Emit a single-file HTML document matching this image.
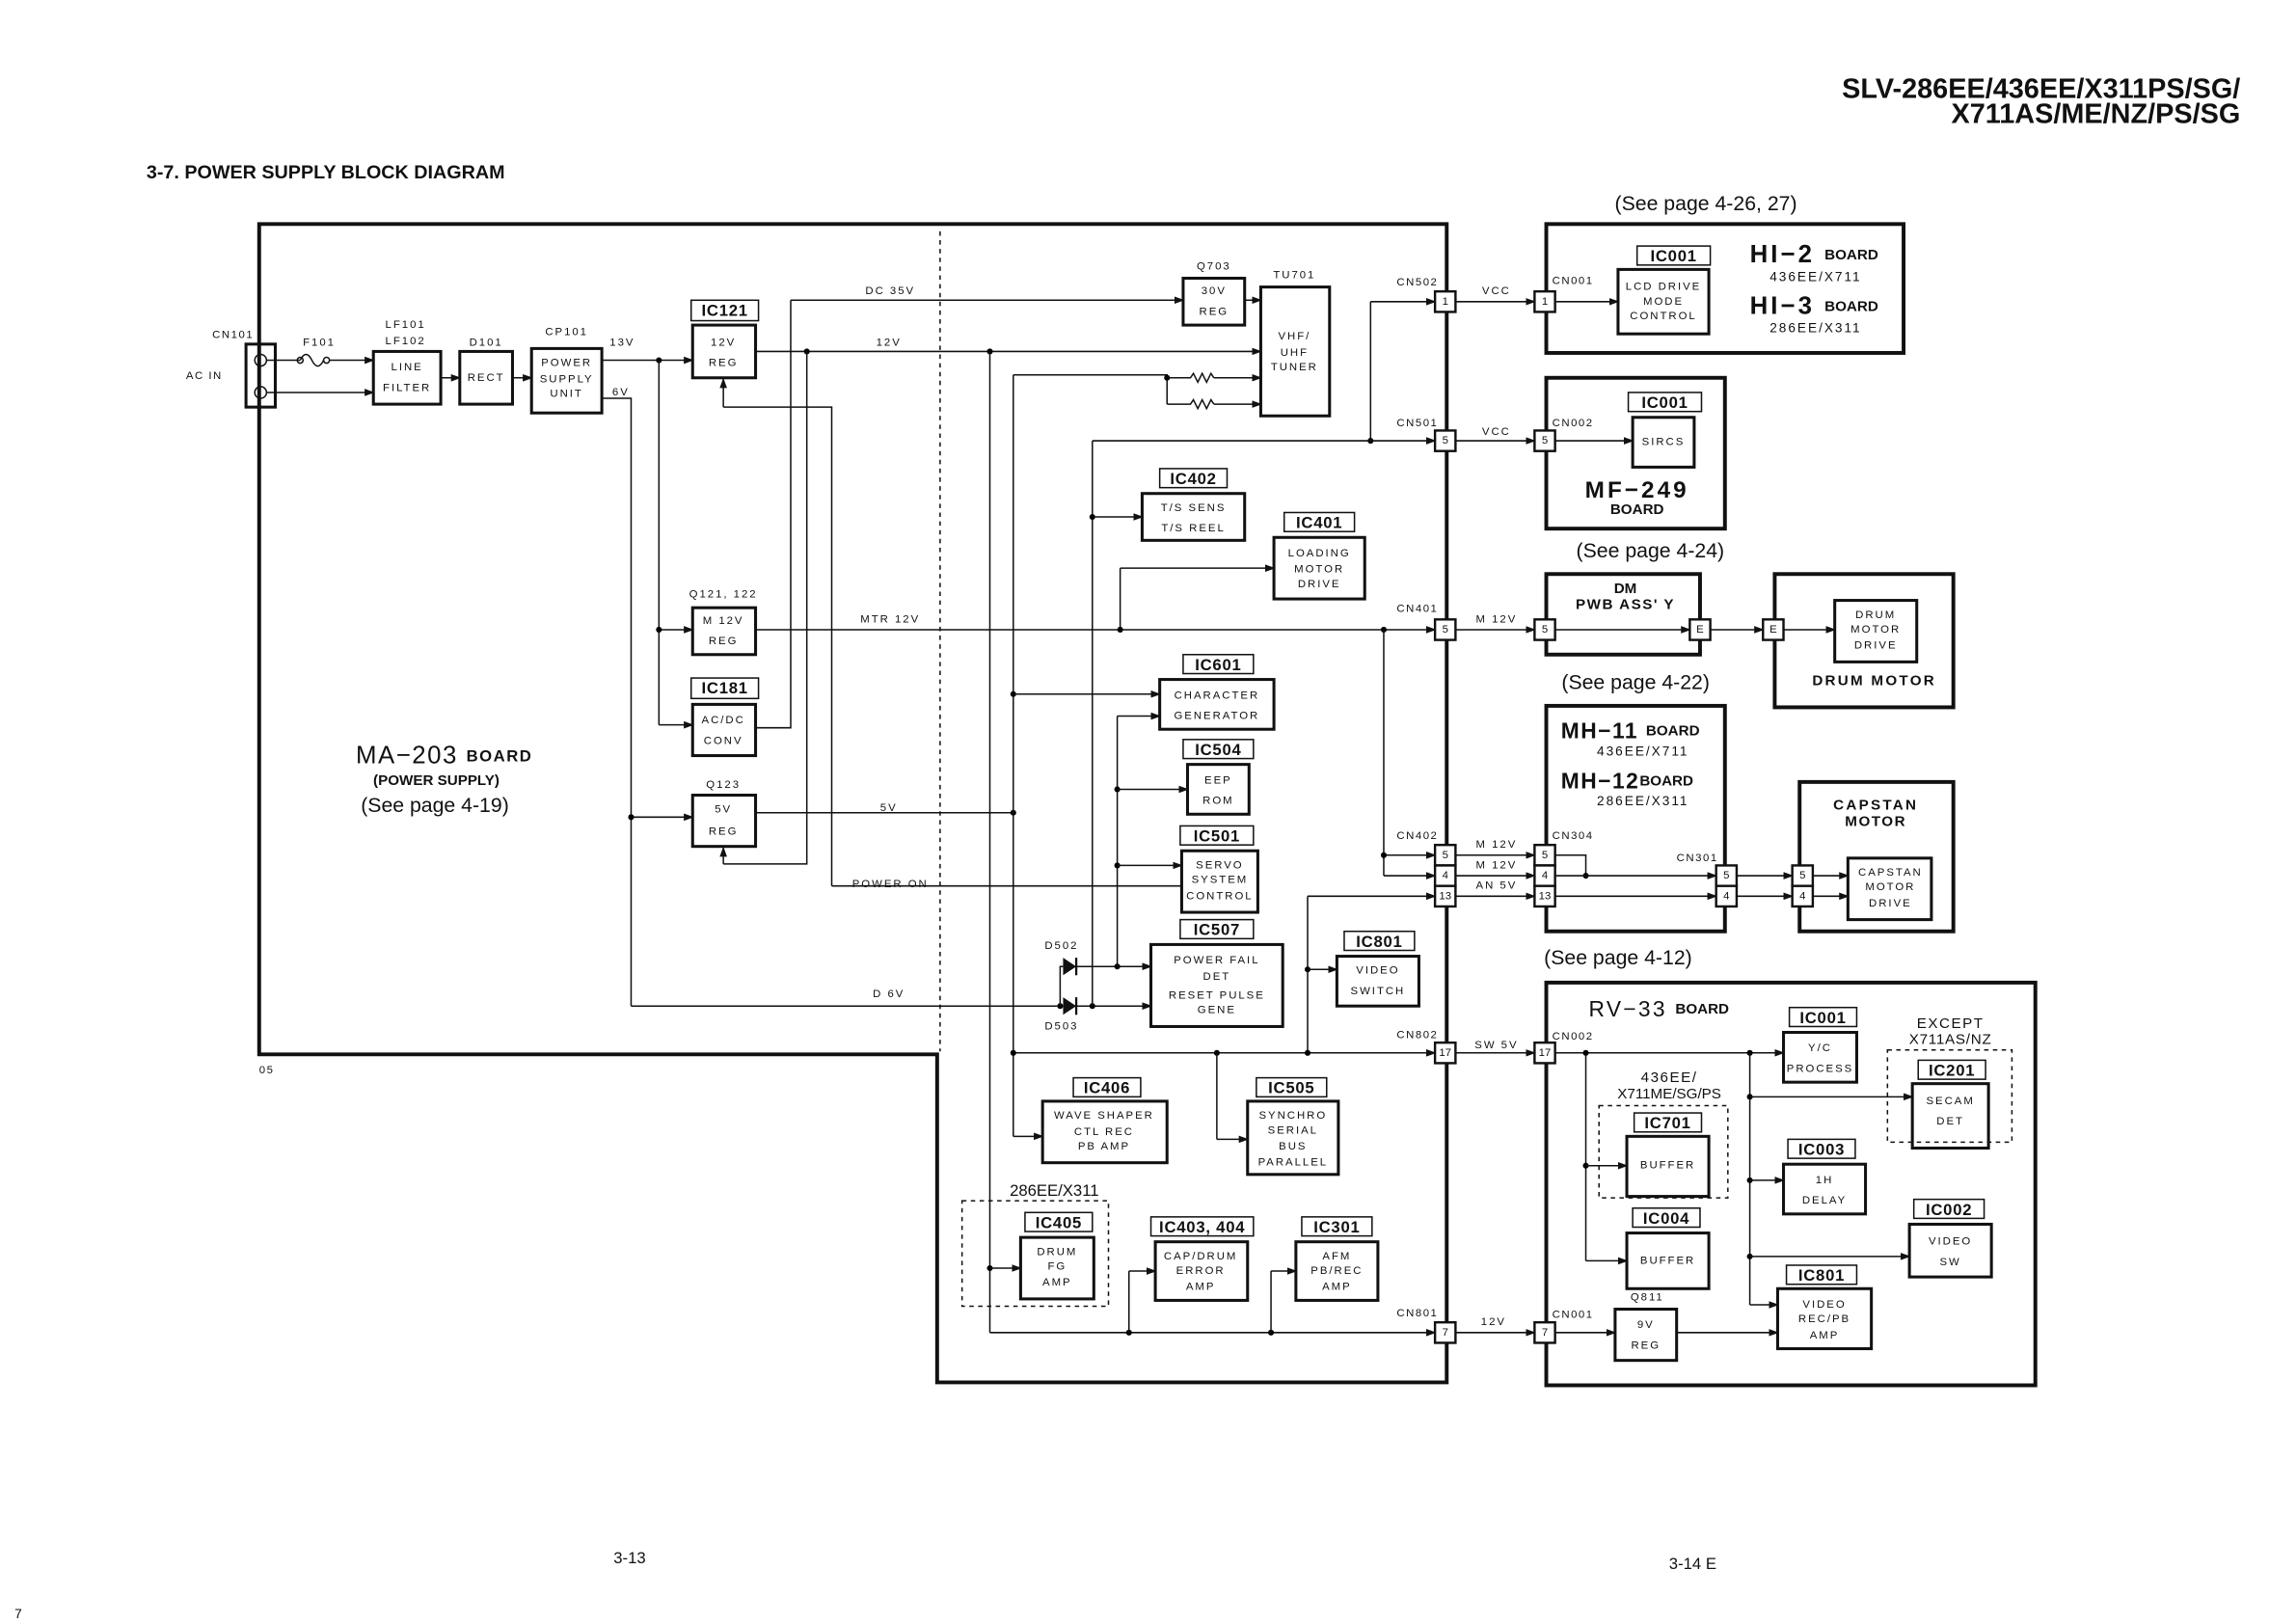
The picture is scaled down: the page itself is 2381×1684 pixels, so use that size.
<!DOCTYPE html>
<html><head><meta charset="utf-8"><style>
html,body{margin:0;padding:0;background:#fff}
svg{display:block}
text{font-family:"Liberation Sans",sans-serif;fill:#111;dominant-baseline:central}
.s{font-size:7.5px;letter-spacing:1.3px;text-anchor:middle}
.sl{font-size:7.5px;letter-spacing:1px}
.ic{font-size:11px;font-weight:bold;text-anchor:middle;letter-spacing:.5px}
.pg{font-size:14px}
.bd{font-weight:bold}
.b{fill:none;stroke:#111;stroke-width:2}
.lb{fill:none;stroke:#111;stroke-width:1}
.bo{fill:none;stroke:#111;stroke-width:2.6}
.l{fill:none;stroke:#111;stroke-width:1}
.a{fill:none;stroke:#111;stroke-width:1;marker-end:url(#ar)}
.d{fill:none;stroke:#111;stroke-width:1;stroke-dasharray:3 3}
.p{fill:#fff;stroke:#111;stroke-width:1.6}
</style></head><body>
<svg width="2381" height="1684" viewBox="0 0 1568 1109" preserveAspectRatio="none" xmlns="http://www.w3.org/2000/svg">
<defs><marker id="ar" markerWidth="7" markerHeight="6" refX="6" refY="3" orient="auto" markerUnits="userSpaceOnUse"><path d="M0,0.5 L7,3 L0,5.5 Z" fill="#111"/></marker></defs>
<g fill="#111">
<text x="1530" y="61" style="font-size:19px;font-weight:bold;text-anchor:end">SLV-286EE/436EE/X311PS/SG/</text>
<text x="1530" y="78" style="font-size:19px;font-weight:bold;text-anchor:end">X711AS/ME/NZ/PS/SG</text>
<text x="100" y="118" style="font-size:13px;font-weight:bold">3-7.  POWER SUPPLY BLOCK DIAGRAM</text>
</g>
<!-- MA board -->
<path class="bo" d="M177,153 H988 V944 H640 V720 H177 Z"/>
<line class="d" x1="642" y1="158" x2="642" y2="718"/>
<text x="177" y="731" class="sl">05</text>
<text x="243" y="516" style="font-size:17px;letter-spacing:1px">MA−203 <tspan style="font-size:11px;font-weight:bold">BOARD</tspan></text>
<text x="298" y="533" style="font-size:10px;font-weight:bold;text-anchor:middle">(POWER SUPPLY)</text>
<text x="297" y="550" class="pg" style="text-anchor:middle">(See page 4-19)</text>
<!-- input chain -->
<rect x="168" y="235" width="20" height="43" class="b"/>
<circle cx="178" cy="246" r="4" class="l" fill="#fff"/><circle cx="178" cy="268" r="4" class="l" fill="#fff"/>
<text x="145" y="229" class="sl">CN101</text><text x="127" y="257" class="sl">AC  IN</text>
<text x="218" y="234" class="s">F101</text>
<path class="l" d="M182,246 H205"/><path class="l" d="M205,246 q4,-8 8,0 t8,0"/><circle cx="205" cy="246" r="2" class="l" fill="#fff"/><circle cx="223" cy="246" r="2" class="l" fill="#fff"/>
<path class="a" d="M225,246 H255"/><path class="a" d="M182,268 H255"/>
<text x="277" y="222" class="s">LF101</text><text x="277" y="233" class="s">LF102</text>
<rect x="255" y="240" width="46" height="36" class="b"/><text x="278" y="251" class="s">LINE</text><text x="278" y="265" class="s">FILTER</text>
<path class="a" d="M301,258 H314"/>
<text x="332" y="234" class="s">D101</text>
<rect x="314" y="240" width="36" height="36" class="b"/><text x="332" y="258" class="s">RECT</text>
<path class="a" d="M350,258 H363"/>
<text x="387" y="227" class="s">CP101</text>
<rect x="363" y="238" width="48" height="44" class="b"/><text x="387" y="248" class="s">POWER</text><text x="387" y="259" class="s">SUPPLY</text><text x="387" y="269" class="s">UNIT</text>
<text x="425" y="234" class="s">13V</text><text x="424" y="268" class="s">6V</text>
<!-- 13V -->
<path class="a" d="M411,246 H473"/><circle cx="450" cy="246" r="2"/>
<path class="l" d="M450,246 V495"/><path class="a" d="M450,430 H473"/><circle cx="450" cy="430" r="2"/><path class="a" d="M450,495 H473"/>
<path class="l" d="M411,272 H431 V687"/><path class="a" d="M431,558 H473"/><circle cx="431" cy="558" r="2"/>
<!-- regs -->
<rect x="472" y="205" width="46" height="14" class="lb"/><text x="495" y="212" class="ic">IC121</text>
<rect x="473" y="222" width="43" height="36" class="b"/><text x="494" y="234" class="s">12V</text><text x="494" y="248" class="s">REG</text>
<text x="494" y="406" class="s">Q121, 122</text>
<rect x="473" y="415" width="43" height="32" class="b"/><text x="494" y="424" class="s">M 12V</text><text x="494" y="438" class="s">REG</text>
<rect x="472" y="463" width="46" height="14" class="lb"/><text x="495" y="470" class="ic">IC181</text>
<rect x="473" y="481" width="43" height="35" class="b"/><text x="494" y="492" class="s">AC/DC</text><text x="494" y="506" class="s">CONV</text>
<text x="494" y="536" class="s">Q123</text>
<rect x="473" y="543" width="43" height="35" class="b"/><text x="494" y="553" class="s">5V</text><text x="494" y="568" class="s">REG</text>
<!-- DC35V -->
<path class="l" d="M516,497 H540 V205"/><path class="a" d="M540,205 H808"/><text x="608" y="199" class="s">DC 35V</text>
<!-- 12V -->
<path class="a" d="M516,240 H861"/><text x="607" y="234" class="s">12V</text>
<circle cx="551" cy="240" r="2"/><circle cx="676" cy="240" r="2"/>
<path class="l" d="M551,240 V590 H494"/><path class="a" d="M494,590 V579"/>
<path class="l" d="M568,605 V278 H494"/><path class="a" d="M494,278 V259"/>
<path class="l" d="M568,605 H807"/><text x="608" y="604" class="s">POWER ON</text>
<!-- MTR 12V -->
<path class="a" d="M516,430 H980"/><text x="608" y="423" class="s">MTR 12V</text>
<!-- 5V -->
<path class="l" d="M516,555 H692"/><text x="607" y="552" class="s">5V</text><circle cx="692" cy="555" r="2"/>
<!-- D6V -->
<path class="l" d="M431,687 H722"/><text x="607" y="679" class="s">D 6V</text>
<circle cx="724" cy="687" r="2"/>
<path class="l" d="M724,687 V660 H726"/>
<path d="M726,654 L735,660 L726,666 Z" fill="#111"/><line x1="735" y1="654" x2="735" y2="666" class="l" style="stroke-width:1.5"/>
<path d="M726,681 L735,687 L726,693 Z" fill="#111"/><line x1="735" y1="681" x2="735" y2="693" class="l" style="stroke-width:1.5"/>
<path class="a" d="M735,660 H786"/><path class="a" d="M735,687 H786"/>
<circle cx="746" cy="687" r="2"/><circle cx="763" cy="660" r="2"/>
<text x="725" y="646" class="s">D502</text><text x="725" y="701" class="s">D503</text>
<!-- Q703 / TU701 -->
<text x="829" y="182" class="s">Q703</text>
<rect x="808" y="190" width="42" height="32" class="b"/><text x="829" y="199" class="s">30V</text><text x="829" y="213" class="s">REG</text>
<path class="a" d="M850,205 H861"/>
<text x="884" y="188" class="s">TU701</text>
<rect x="861" y="196" width="47" height="88" class="b"/><text x="884" y="230" class="s">VHF/</text><text x="884" y="241" class="s">UHF</text><text x="884" y="251" class="s">TUNER</text>
<path class="l" d="M692,256 V776"/><path class="a" d="M692,776 H712"/>
<path class="l" d="M692,256 H797 V276"/><circle cx="797" cy="258" r="2"/>
<path class="l" d="M797,258 H813 l2,-3 l3,6 l3,-6 l3,6 l3,-6 l2,3"/><path class="a" d="M829,258 H861"/>
<path class="l" d="M797,276 H813 l2,-3 l3,6 l3,-6 l3,6 l3,-6 l2,3"/><path class="a" d="M829,276 H861"/>
<!-- VCC -->
<path class="l" d="M936,301 V206"/><path class="a" d="M936,206 H980"/><circle cx="936" cy="301" r="2"/>
<path class="a" d="M746,301 H980"/><path class="l" d="M746,301 V687"/>
<circle cx="746" cy="353" r="2"/><path class="a" d="M746,353 H780"/>
<rect x="792" y="320" width="46" height="13" class="lb"/><text x="815" y="327" class="ic">IC402</text>
<rect x="780" y="337" width="70" height="32" class="b"/><text x="815" y="347" class="s">T/S SENS</text><text x="815" y="361" class="s">T/S REEL</text>
<rect x="877" y="350" width="48" height="13" class="lb"/><text x="901" y="357" class="ic">IC401</text>
<rect x="870" y="367" width="62" height="42" class="b"/><text x="901" y="378" class="s">LOADING</text><text x="901" y="389" class="s">MOTOR</text><text x="901" y="399" class="s">DRIVE</text>
<path class="l" d="M765,430 V388"/><path class="a" d="M765,388 H870"/><circle cx="765" cy="430" r="2"/>
<circle cx="945" cy="430" r="2"/><path class="l" d="M945,430 V598"/><path class="a" d="M945,584 H980"/><circle cx="945" cy="584" r="2"/><path class="a" d="M945,598 H980"/>
<!-- IC601 etc -->
<rect x="808" y="447" width="48" height="13" class="lb"/><text x="832" y="454" class="ic">IC601</text>
<rect x="792" y="464" width="78" height="34" class="b"/><text x="831" y="475" class="s">CHARACTER</text><text x="831" y="489" class="s">GENERATOR</text>
<circle cx="692" cy="474" r="2"/><path class="a" d="M692,474 H792"/>
<path class="l" d="M763,489 V660"/><path class="a" d="M763,489 H792"/>
<rect x="808" y="505" width="48" height="13" class="lb"/><text x="832" y="512" class="ic">IC504</text>
<rect x="811" y="522" width="42" height="34" class="b"/><text x="832" y="533" class="s">EEP</text><text x="832" y="547" class="s">ROM</text>
<circle cx="763" cy="539" r="2"/><path class="a" d="M763,539 H811"/>
<rect x="806" y="564" width="50" height="13" class="lb"/><text x="831" y="571" class="ic">IC501</text>
<rect x="807" y="581" width="52" height="42" class="b"/><text x="833" y="591" class="s">SERVO</text><text x="833" y="601" class="s">SYSTEM</text><text x="833" y="612" class="s">CONTROL</text>
<circle cx="763" cy="591" r="2"/><path class="a" d="M763,591 H807"/>
<rect x="806" y="628" width="50" height="13" class="lb"/><text x="831" y="635" class="ic">IC507</text>
<rect x="786" y="645" width="90" height="56" class="b"/><text x="831" y="656" class="s">POWER FAIL</text><text x="831" y="667" class="s">DET</text><text x="831" y="680" class="s">RESET PULSE</text><text x="831" y="690" class="s">GENE</text>
<rect x="918" y="636" width="48" height="13" class="lb"/><text x="942" y="643" class="ic">IC801</text>
<rect x="913" y="653" width="56" height="34" class="b"/><text x="941" y="663" class="s">VIDEO</text><text x="941" y="677" class="s">SWITCH</text>
<path class="a" d="M893,612 H980"/><path class="l" d="M893,612 V719"/><circle cx="893" cy="662" r="2"/><path class="a" d="M893,662 H913"/>
<!-- SW5V -->
<path class="a" d="M692,719 H980"/><circle cx="692" cy="719" r="2"/><circle cx="831" cy="719" r="2"/><circle cx="893" cy="719" r="2"/>
<path class="l" d="M831,719 V778"/><path class="a" d="M831,778 H852"/>
<rect x="733" y="736" width="46" height="13" class="lb"/><text x="756" y="743" class="ic">IC406</text>
<rect x="712" y="752" width="85" height="42" class="b"/><text x="754" y="762" class="s">WAVE SHAPER</text><text x="754" y="773" class="s">CTL REC</text><text x="754" y="783" class="s">PB AMP</text>
<rect x="858" y="736" width="48" height="13" class="lb"/><text x="882" y="743" class="ic">IC505</text>
<rect x="852" y="752" width="62" height="50" class="b"/><text x="883" y="762" class="s">SYNCHRO</text><text x="883" y="772" class="s">SERIAL</text><text x="883" y="783" class="s">BUS</text><text x="883" y="794" class="s">PARALLEL</text>
<!-- bottom group -->
<rect x="657" y="820" width="100" height="72" class="d"/><text x="720" y="813" style="font-size:11px;text-anchor:middle">286EE/X311</text>
<rect x="700" y="828" width="46" height="13" class="lb"/><text x="723" y="835" class="ic">IC405</text>
<rect x="697" y="845" width="50" height="42" class="b"/><text x="722" y="855" class="s">DRUM</text><text x="722" y="865" class="s">FG</text><text x="722" y="876" class="s">AMP</text>
<path class="l" d="M676,240 V910"/><circle cx="676" cy="866" r="2"/><path class="a" d="M676,866 H697"/>
<rect x="786" y="831" width="70" height="13" class="lb"/><text x="821" y="838" class="ic">IC403, 404</text>
<rect x="789" y="848" width="63" height="40" class="b"/><text x="820" y="858" class="s">CAP/DRUM</text><text x="820" y="868" class="s">ERROR</text><text x="820" y="879" class="s">AMP</text>
<rect x="889" y="831" width="48" height="13" class="lb"/><text x="913" y="838" class="ic">IC301</text>
<rect x="885" y="848" width="56" height="40" class="b"/><text x="913" y="858" class="s">AFM</text><text x="913" y="868" class="s">PB/REC</text><text x="913" y="879" class="s">AMP</text>
<path class="a" d="M676,910 H980"/><circle cx="771" cy="910" r="2"/><circle cx="868" cy="910" r="2"/>
<path class="l" d="M771,910 V868"/><path class="a" d="M771,868 H789"/><path class="l" d="M868,910 V868"/><path class="a" d="M868,868 H885"/>
<!-- CN labels left -->
<text x="968" y="193" class="sl" style="text-anchor:middle">CN502</text>
<text x="968" y="289" class="sl" style="text-anchor:middle">CN501</text>
<text x="968" y="416" class="sl" style="text-anchor:middle">CN401</text>
<text x="968" y="571" class="sl" style="text-anchor:middle">CN402</text>
<text x="968" y="707" class="sl" style="text-anchor:middle">CN802</text>
<text x="968" y="897" class="sl" style="text-anchor:middle">CN801</text>
<!-- links between boards -->
<path class="a" d="M994,206 H1048"/><text x="1022" y="199" class="s">VCC</text>
<path class="a" d="M994,301 H1048"/><text x="1022" y="295" class="s">VCC</text>
<path class="a" d="M994,430 H1048"/><text x="1022" y="423" class="s">M 12V</text>
<path class="a" d="M994,584 H1048"/><text x="1022" y="577" class="s">M 12V</text>
<path class="a" d="M994,598 H1048"/><text x="1022" y="591" class="s">M 12V</text>
<path class="a" d="M994,612 H1048"/><text x="1022" y="605" class="s">AN 5V</text>
<path class="a" d="M994,719 H1048"/><text x="1022" y="714" class="s">SW 5V</text>
<path class="a" d="M994,910 H1048"/><text x="1020" y="903" class="s">12V</text>
<!-- pins left column -->
<g>
<rect x="980" y="199" width="14" height="14" class="p"/><text x="987" y="206" class="s" style="letter-spacing:0">1</text>
<rect x="980" y="294" width="14" height="14" class="p"/><text x="987" y="301" class="s" style="letter-spacing:0">5</text>
<rect x="980" y="423" width="14" height="14" class="p"/><text x="987" y="430" class="s" style="letter-spacing:0">5</text>
<rect x="980" y="577" width="14" height="14" class="p"/><text x="987" y="584" class="s" style="letter-spacing:0">5</text>
<rect x="980" y="591" width="14" height="14" class="p"/><text x="987" y="598" class="s" style="letter-spacing:0">4</text>
<rect x="980" y="605" width="14" height="14" class="p"/><text x="987" y="612" class="s" style="letter-spacing:0">13</text>
<rect x="980" y="712" width="14" height="14" class="p"/><text x="987" y="719" class="s" style="letter-spacing:0">17</text>
<rect x="980" y="903" width="14" height="14" class="p"/><text x="987" y="910" class="s" style="letter-spacing:0">7</text>
</g>
<!-- HI-2 -->
<text x="1165" y="139" class="pg" style="text-anchor:middle">(See page 4-26, 27)</text>
<rect x="1056" y="153" width="244" height="88" class="bo"/>
<text x="1060" y="192" class="sl">CN001</text>
<path class="a" d="M1062,206 H1105"/>
<rect x="1118" y="168" width="50" height="13" class="lb"/><text x="1143" y="175" class="ic">IC001</text>
<rect x="1105" y="184" width="62" height="44" class="b"/><text x="1136" y="196" class="s">LCD DRIVE</text><text x="1136" y="206" class="s">MODE</text><text x="1136" y="216" class="s">CONTROL</text>
<text x="1195" y="174" style="font-size:17px;font-weight:bold;letter-spacing:2px">HI−2 <tspan style="font-size:10px;letter-spacing:0">BOARD</tspan></text>
<text x="1240" y="189" class="s" style="font-size:9px">436EE/X711</text>
<text x="1195" y="209" style="font-size:17px;font-weight:bold;letter-spacing:2px">HI−3 <tspan style="font-size:10px;letter-spacing:0">BOARD</tspan></text>
<text x="1240" y="224" class="s" style="font-size:9px">286EE/X311</text>
<!-- MF-249 -->
<rect x="1056" y="258" width="122" height="103" class="bo"/>
<text x="1060" y="289" class="sl">CN002</text>
<path class="a" d="M1062,301 H1115"/>
<rect x="1112" y="268" width="50" height="13" class="lb"/><text x="1137" y="275" class="ic">IC001</text>
<rect x="1115" y="285" width="42" height="34" class="b"/><text x="1136" y="302" class="s">SIRCS</text>
<text x="1118" y="335" style="font-size:16px;font-weight:bold;text-anchor:middle;letter-spacing:2px">MF−249</text>
<text x="1118" y="348" style="font-size:10px;font-weight:bold;text-anchor:middle">BOARD</text>
<text x="1127" y="376" class="pg" style="text-anchor:middle">(See page 4-24)</text>
<!-- DM PWB -->
<rect x="1056" y="392" width="105" height="55" class="bo"/>
<text x="1110" y="402" style="font-size:10px;font-weight:bold;text-anchor:middle">DM</text>
<text x="1110" y="413" style="font-size:10px;font-weight:bold;text-anchor:middle;letter-spacing:1px">PWB  ASS' Y</text>
<path class="a" d="M1062,430 H1154"/><path class="a" d="M1168,430 H1204"/>
<rect x="1154" y="423" width="14" height="14" class="p"/><text x="1161" y="430" class="s" style="letter-spacing:0">E</text>
<text x="1117" y="466" class="pg" style="text-anchor:middle">(See page 4-22)</text>
<rect x="1212" y="392" width="122" height="91" class="bo"/>
<rect x="1204" y="423" width="14" height="14" class="p"/><text x="1211" y="430" class="s" style="letter-spacing:0">E</text>
<path class="a" d="M1218,430 H1253"/>
<rect x="1253" y="410" width="56" height="42" class="b"/><text x="1281" y="420" class="s">DRUM</text><text x="1281" y="430" class="s">MOTOR</text><text x="1281" y="441" class="s">DRIVE</text>
<text x="1280" y="465" style="font-size:10px;font-weight:bold;text-anchor:middle;letter-spacing:1.5px">DRUM  MOTOR</text>
<!-- MH-11 -->
<rect x="1056" y="482" width="122" height="154" class="bo"/>
<text x="1066" y="499" style="font-size:15px;font-weight:bold;letter-spacing:1px">MH−11 <tspan style="font-size:10px;letter-spacing:0">BOARD</tspan></text>
<text x="1122" y="513" class="s" style="font-size:9px">436EE/X711</text>
<text x="1066" y="533" style="font-size:15px;font-weight:bold;letter-spacing:1px">MH−12<tspan style="font-size:10px;letter-spacing:0">BOARD</tspan></text>
<text x="1122" y="547" class="s" style="font-size:9px">286EE/X311</text>
<text x="1060" y="571" class="sl">CN304</text>
<text x="1145" y="586" class="sl">CN301</text>
<path class="l" d="M1062,584 H1083 V598"/><circle cx="1083" cy="598" r="2"/>
<path class="a" d="M1062,598 H1172"/><path class="a" d="M1062,612 H1172"/>
<path class="a" d="M1186,598 H1224"/><path class="a" d="M1186,612 H1224"/>
<rect x="1172" y="591" width="14" height="14" class="p"/><text x="1179" y="598" class="s" style="letter-spacing:0">5</text>
<rect x="1172" y="605" width="14" height="14" class="p"/><text x="1179" y="612" class="s" style="letter-spacing:0">4</text>
<rect x="1229" y="534" width="105" height="102" class="bo"/>
<text x="1281" y="550" style="font-size:10px;font-weight:bold;text-anchor:middle;letter-spacing:1.5px">CAPSTAN</text>
<text x="1281" y="561" style="font-size:10px;font-weight:bold;text-anchor:middle;letter-spacing:1px">MOTOR</text>
<rect x="1224" y="591" width="14" height="14" class="p"/><text x="1231" y="598" class="s" style="letter-spacing:0">5</text>
<rect x="1224" y="605" width="14" height="14" class="p"/><text x="1231" y="612" class="s" style="letter-spacing:0">4</text>
<path class="a" d="M1238,598 H1262"/><path class="a" d="M1238,612 H1262"/>
<rect x="1262" y="586" width="57" height="42" class="b"/><text x="1291" y="596" class="s">CAPSTAN</text><text x="1291" y="606" class="s">MOTOR</text><text x="1291" y="617" class="s">DRIVE</text>
<text x="1105" y="654" class="pg" style="text-anchor:middle">(See page 4-12)</text>
<!-- RV-33 -->
<rect x="1056" y="671" width="334" height="275" class="bo"/>
<text x="1085" y="689" style="font-size:15px;letter-spacing:1.5px">RV−33 <tspan style="font-size:10px;font-weight:bold;letter-spacing:0">BOARD</tspan></text>
<text x="1060" y="708" class="sl">CN002</text>
<path class="a" d="M1062,719 H1218"/><circle cx="1083" cy="719" r="2"/><circle cx="1195" cy="719" r="2"/>
<path class="l" d="M1083,719 V861"/><path class="l" d="M1195,719 V891"/>
<rect x="1222" y="688" width="46" height="13" class="lb"/><text x="1245" y="695" class="ic">IC001</text>
<rect x="1218" y="705" width="50" height="34" class="b"/><text x="1243" y="716" class="s">Y/C</text><text x="1243" y="730" class="s">PROCESS</text>
<text x="1332" y="699" style="font-size:10px;text-anchor:middle;letter-spacing:1px">EXCEPT</text>
<text x="1332" y="710" style="font-size:10px;text-anchor:middle;letter-spacing:.5px">X711AS/NZ</text>
<rect x="1289" y="717" width="85" height="63" class="d"/>
<rect x="1310" y="724" width="46" height="13" class="lb"/><text x="1333" y="731" class="ic">IC201</text>
<rect x="1306" y="740" width="52" height="44" class="b"/><text x="1332" y="752" class="s">SECAM</text><text x="1332" y="766" class="s">DET</text>
<circle cx="1195" cy="749" r="2"/><path class="a" d="M1195,749 H1306"/>
<text x="1140" y="736" style="font-size:10px;text-anchor:middle;letter-spacing:1px">436EE/</text>
<text x="1140" y="747" style="font-size:10px;text-anchor:middle">X711ME/SG/PS</text>
<rect x="1092" y="755" width="88" height="63" class="d"/>
<rect x="1116" y="760" width="46" height="13" class="lb"/><text x="1139" y="767" class="ic">IC701</text>
<rect x="1111" y="776" width="56" height="41" class="b"/><text x="1139" y="796" class="s">BUFFER</text>
<circle cx="1083" cy="796" r="2"/><path class="a" d="M1083,796 H1111"/>
<rect x="1115" y="825" width="46" height="13" class="lb"/><text x="1138" y="832" class="ic">IC004</text>
<rect x="1111" y="842" width="56" height="38" class="b"/><text x="1139" y="861" class="s">BUFFER</text>
<path class="a" d="M1083,861 H1111"/>
<rect x="1221" y="778" width="46" height="13" class="lb"/><text x="1244" y="785" class="ic">IC003</text>
<rect x="1218" y="795" width="56" height="34" class="b"/><text x="1246" y="806" class="s">1H</text><text x="1246" y="820" class="s">DELAY</text>
<circle cx="1195" cy="806" r="2"/><path class="a" d="M1195,806 H1218"/>
<rect x="1307" y="819" width="48" height="13" class="lb"/><text x="1331" y="826" class="ic">IC002</text>
<rect x="1304" y="836" width="56" height="36" class="b"/><text x="1332" y="848" class="s">VIDEO</text><text x="1332" y="862" class="s">SW</text>
<circle cx="1195" cy="858" r="2"/><path class="a" d="M1195,858 H1304"/>
<rect x="1220" y="864" width="48" height="13" class="lb"/><text x="1244" y="871" class="ic">IC801</text>
<rect x="1214" y="880" width="64" height="41" class="b"/><text x="1246" y="891" class="s">VIDEO</text><text x="1246" y="901" class="s">REC/PB</text><text x="1246" y="912" class="s">AMP</text>
<path class="a" d="M1195,891 H1214"/>
<text x="1125" y="886" class="s">Q811</text>
<rect x="1103" y="894" width="42" height="35" class="b"/><text x="1124" y="905" class="s">9V</text><text x="1124" y="919" class="s">REG</text>
<text x="1060" y="898" class="sl">CN001</text>
<path class="a" d="M1062,910 H1103"/><path class="a" d="M1145,910 H1214"/>
<!-- right column pins -->
<rect x="1048" y="199" width="14" height="14" class="p"/><text x="1055" y="206" class="s" style="letter-spacing:0">1</text>
<rect x="1048" y="294" width="14" height="14" class="p"/><text x="1055" y="301" class="s" style="letter-spacing:0">5</text>
<rect x="1048" y="423" width="14" height="14" class="p"/><text x="1055" y="430" class="s" style="letter-spacing:0">5</text>
<rect x="1048" y="577" width="14" height="14" class="p"/><text x="1055" y="584" class="s" style="letter-spacing:0">5</text>
<rect x="1048" y="591" width="14" height="14" class="p"/><text x="1055" y="598" class="s" style="letter-spacing:0">4</text>
<rect x="1048" y="605" width="14" height="14" class="p"/><text x="1055" y="612" class="s" style="letter-spacing:0">13</text>
<rect x="1048" y="712" width="14" height="14" class="p"/><text x="1055" y="719" class="s" style="letter-spacing:0">17</text>
<rect x="1048" y="903" width="14" height="14" class="p"/><text x="1055" y="910" class="s" style="letter-spacing:0">7</text>
<!-- footer -->
<text x="430" y="1064" style="font-size:11px;text-anchor:middle">3-13</text>
<text x="1156" y="1068" style="font-size:11px;text-anchor:middle">3-14 E</text>
<text x="10" y="1102" style="font-size:9px">7</text>
</svg>
</body></html>
